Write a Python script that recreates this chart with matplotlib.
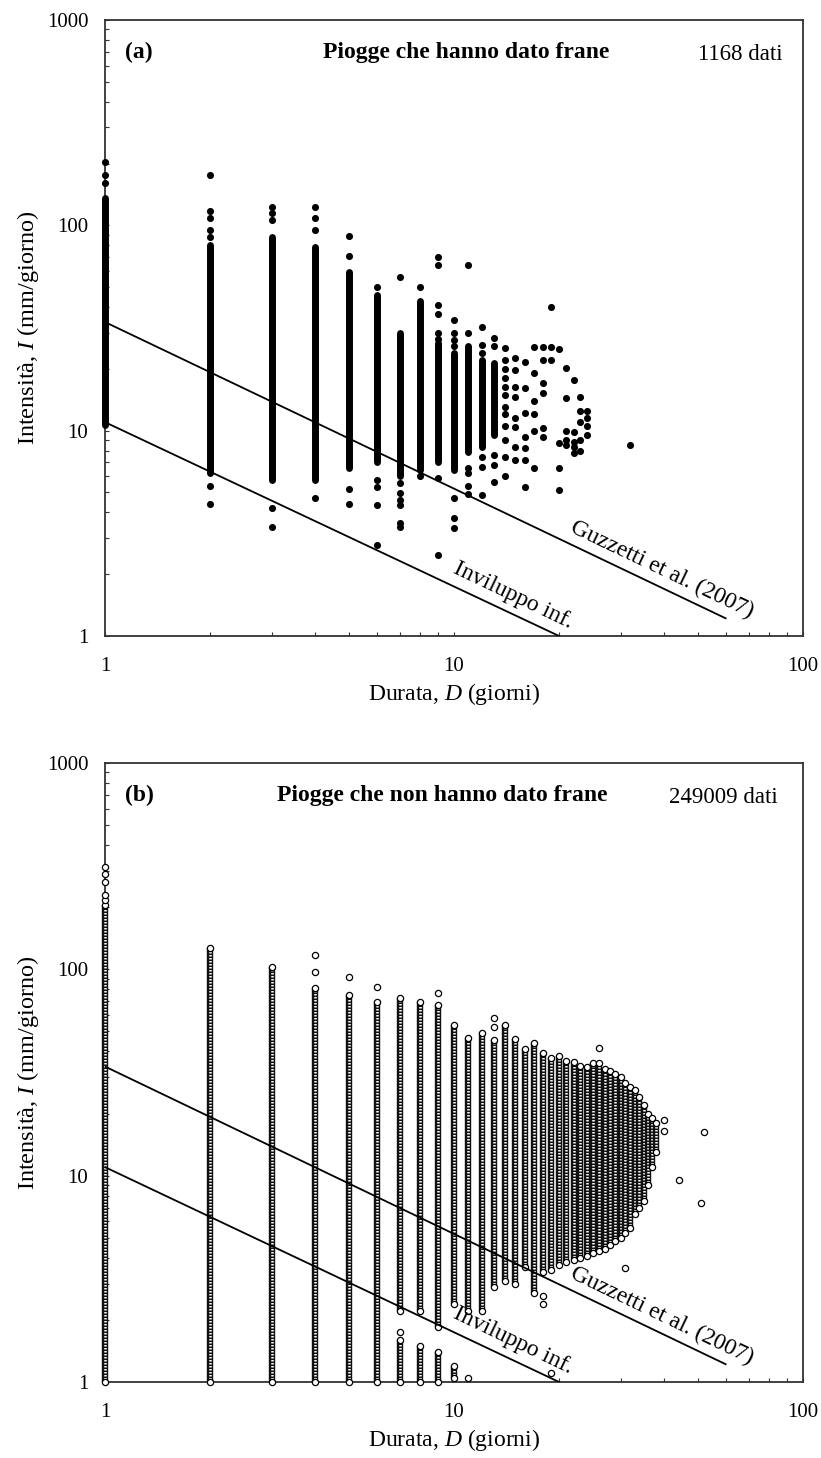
import matplotlib
matplotlib.use("Agg")
import matplotlib.pyplot as plt
import matplotlib.ticker as mticker
import numpy as np

plt.rcParams['font.family'] = ['Liberation Serif', 'DejaVu Serif']
plt.rcParams['mathtext.fontset'] = 'custom'
plt.rcParams['mathtext.rm'] = 'Liberation Serif'
plt.rcParams['mathtext.it'] = 'Liberation Serif:italic'

# ---------------- thresholds (D in days, I in mm/day) ----------------
guz_D = [1, 60]
guz_I = [33.8, 1.22]
inv_D = [1, 20]
inv_I = [11.0, 1.0]

# ---------------- panel (a): rains that triggered landslides ----------------
# dense part of each duration column (lowest / highest intensity)
a_col_D = [1, 2, 3, 4, 5, 6, 7, 8, 9, 10, 11, 12, 13]
a_col_lo = [10.6, 6.2, 5.75, 5.75, 6.6, 7.0, 6.0, 6.45, 7.0, 6.45, 7.9, 8.3, 9.5]
a_col_hi = [136, 80.6, 88, 78.6, 59, 45.6, 29.8, 43, 26.7, 23.9, 25.7, 22, 21.3]
# isolated dots per duration
a_single = {
    1: [160, 175, 204],
    2: [176, 118, 109, 95, 88, 5.4, 4.4],
    3: [123, 115, 106, 4.2, 3.4],
    4: [123, 108, 95, 4.7],
    5: [89, 71, 5.2, 4.4],
    6: [50, 5.75, 5.3, 4.35, 2.77],
    7: [56, 5.55, 4.97, 4.6, 4.35, 3.55, 3.4],
    8: [50, 6.0],
    9: [70, 64, 41, 37, 30, 28, 5.9, 2.48],
    10: [34.5, 30, 27.5, 25.7, 4.7, 3.75, 3.35],
    11: [64, 29.8, 6.6, 6.2, 5.4, 4.9],
    12: [32, 26, 24, 7.45, 6.65, 4.85],
    13: [28.3, 25.7, 7.6, 6.8, 5.6],
    14: [25.3, 22, 20, 18, 16.3, 15, 13, 12, 10.5, 9.0, 7.45, 6.0],
    15: [22.6, 19.7, 16.3, 14.6, 11.5, 10.4, 8.3, 7.2],
    16: [21.6, 16.1, 12.2, 9.3, 8.2, 7.2, 5.3],
    17: [25.5, 19, 14, 12, 10, 6.6],
    18: [25.5, 22.1, 17.1, 15.3, 10.3, 9.3],
    19: [40, 25.5, 22],
    20: [25, 8.7, 6.6, 5.15],
    21: [20.2, 14.5, 10, 9, 8.5],
    22: [17.6, 9.8, 8.8, 8.3, 7.8],
    23: [14.6, 12.5, 11, 9, 8],
    24: [12.5, 11.5, 10.5, 9.5],
    32: [8.5],
}

# ---------------- panel (b): rains that did not trigger landslides ----------------
b_col_D = [1, 2, 3, 4, 5, 6, 7, 7, 8, 8, 9, 9, 10, 10, 11, 12, 13, 14, 15, 16,
           17, 18, 19, 20, 21, 22, 23, 24, 25, 26, 27, 28, 29, 30, 31, 32, 33,
           34, 35, 36, 37, 38]
b_col_lo = [1, 1, 1, 1, 1, 1, 2.2, 1.0, 2.2, 1.0, 1.85, 1.0, 2.4, 1.05, 2.2, 2.2,
            2.9, 3.1, 3.0, 3.6, 2.7, 3.4, 3.5, 3.7, 3.8, 3.9, 4.0, 4.1, 4.2, 4.3,
            4.4, 4.6, 4.8, 5.0, 5.3, 5.6, 6.5, 7.0, 7.5, 9.0, 11, 13]
b_col_hi = [205, 127, 103, 81, 75, 69.5, 72.5, 1.6, 69.5, 1.5, 67, 1.4, 54, 1.2,
            46.5, 49, 45.5, 54, 46, 41, 44, 39.4, 37, 38, 36, 35.6, 34, 33.6, 35,
            35, 33, 32, 31, 30, 28, 27, 26, 24, 22, 20, 19, 18]
b_single = {
    1: [216, 230, 265, 290, 313],
    4: [97.5, 117],
    5: [91.5],
    6: [82],
    7: [1.75],
    9: [76.6],
    11: [1.04],
    13: [52.5, 58],
    18: [2.4, 2.6],
    19: [1.1],
    26: [41.5],
    31: [3.56],
    40: [16.4, 18.6],
    44: [9.5],
    51: [7.4],
    52: [16.3],
}

W, H = 821, 1458
fig = plt.figure(figsize=(W / 100, H / 100), dpi=100)
ax_a = fig.add_axes([105 / W, 1 - 636 / H, 698 / W, 616 / H])
ax_b = fig.add_axes([105 / W, 1 - 1382 / H, 698 / W, 619 / H])

EDGE = '#333333'


def setup(ax):
    ax.set_xscale('log')
    ax.set_yscale('log')
    ax.set_xlim(1, 100)
    ax.set_ylim(1, 1000)
    fmt = mticker.FuncFormatter(lambda v, p: f"{v:g}")
    ax.xaxis.set_major_formatter(fmt)
    ax.yaxis.set_major_formatter(fmt)
    ax.xaxis.set_minor_formatter(mticker.NullFormatter())
    ax.yaxis.set_minor_formatter(mticker.NullFormatter())
    ax.tick_params(which='both', direction='in', length=3, width=0.8,
                   color=EDGE, top=False, right=False)
    ax.tick_params(axis='x', which='major', pad=15, labelsize=15)
    ax.tick_params(axis='y', which='major', pad=12, labelsize=15)
    for s in ax.spines.values():
        s.set_color(EDGE)
        s.set_linewidth(1.3)
    ax.set_xlabel(r"Durata, $D$ (giorni)", fontsize=17, labelpad=4)
    ax.set_ylabel(r"Intensità, $I$ (mm/giorno)", fontsize=17.5, labelpad=4)


def threshold_lines(ax):
    ax.plot(guz_D, guz_I, color='black', lw=1.3, zorder=10)
    ax.plot(inv_D, inv_I, color='black', lw=1.3, zorder=10)
    # angle of the lines on screen
    p0 = ax.transData.transform((guz_D[0], guz_I[0]))
    p1 = ax.transData.transform((guz_D[1], guz_I[1]))
    ang = np.degrees(np.arctan2(p1[1] - p0[1], p1[0] - p0[0]))
    ax.text(39.5, 2.1, "Guzzetti et al. (2007)", rotation=ang, fontsize=17,
            ha='center', va='center', rotation_mode='anchor', zorder=11)
    ax.text(14.8, 1.58, "Inviluppo inf.", rotation=ang, fontsize=17,
            ha='center', va='center', rotation_mode='anchor', zorder=11)


for ax in (ax_a, ax_b):
    setup(ax)

# panel (a): filled dots, dense stretches drawn as thick round-capped bars
ax_a.vlines(a_col_D, a_col_lo, a_col_hi, colors='black', linewidth=5,
            capstyle='round', clip_on=False, zorder=3)
sx = [d for d, v in a_single.items() for _ in v]
sy = [i for v in a_single.values() for i in v]
ax_a.scatter(sx, sy, s=26, color='black', linewidths=0, clip_on=False, zorder=4)

# panel (b): open circles, dense stretches drawn as outlined bars
for k, (d, lo, hi) in enumerate(zip(b_col_D, b_col_lo, b_col_hi)):
    z = 3 + k * 0.01
    ax_b.vlines(d, lo, hi, colors='#111111', linewidth=4.6, capstyle='butt',
                clip_on=False, zorder=z)
    ax_b.vlines(d, lo, hi, colors='white', linewidth=1.8, capstyle='butt',
                linestyles=[(0, (0.6, 0.6))], clip_on=False, zorder=z + 0.002)
    ax_b.scatter([d, d], [lo, hi], s=20, facecolors='white', edgecolors='black',
                 linewidths=0.9, clip_on=False, zorder=z + 0.004)
sx = [d for d, v in b_single.items() for _ in v]
sy = [i for v in b_single.values() for i in v]
ax_b.scatter(sx, sy, s=20, facecolors='white', edgecolors='black',
             linewidths=0.9, clip_on=False, zorder=4)

for ax in (ax_a, ax_b):
    threshold_lines(ax)

ax_a.text(0.029, 0.948, "(a)", transform=ax_a.transAxes, fontsize=17,
          fontweight='bold', va='center', ha='left')
ax_a.text(0.517, 0.948, "Piogge che hanno dato frane", transform=ax_a.transAxes,
          fontsize=17, fontweight='bold', va='center', ha='center')
ax_a.text(0.971, 0.944, "1168 dati", transform=ax_a.transAxes, fontsize=16.5,
          va='center', ha='right')

ax_b.text(0.029, 0.948, "(b)", transform=ax_b.transAxes, fontsize=17,
          fontweight='bold', va='center', ha='left')
ax_b.text(0.483, 0.948, "Piogge che non hanno dato frane", transform=ax_b.transAxes,
          fontsize=17, fontweight='bold', va='center', ha='center')
ax_b.text(0.964, 0.944, "249009 dati", transform=ax_b.transAxes, fontsize=16.5,
          va='center', ha='right')

fig.savefig("out.png", dpi=100)
